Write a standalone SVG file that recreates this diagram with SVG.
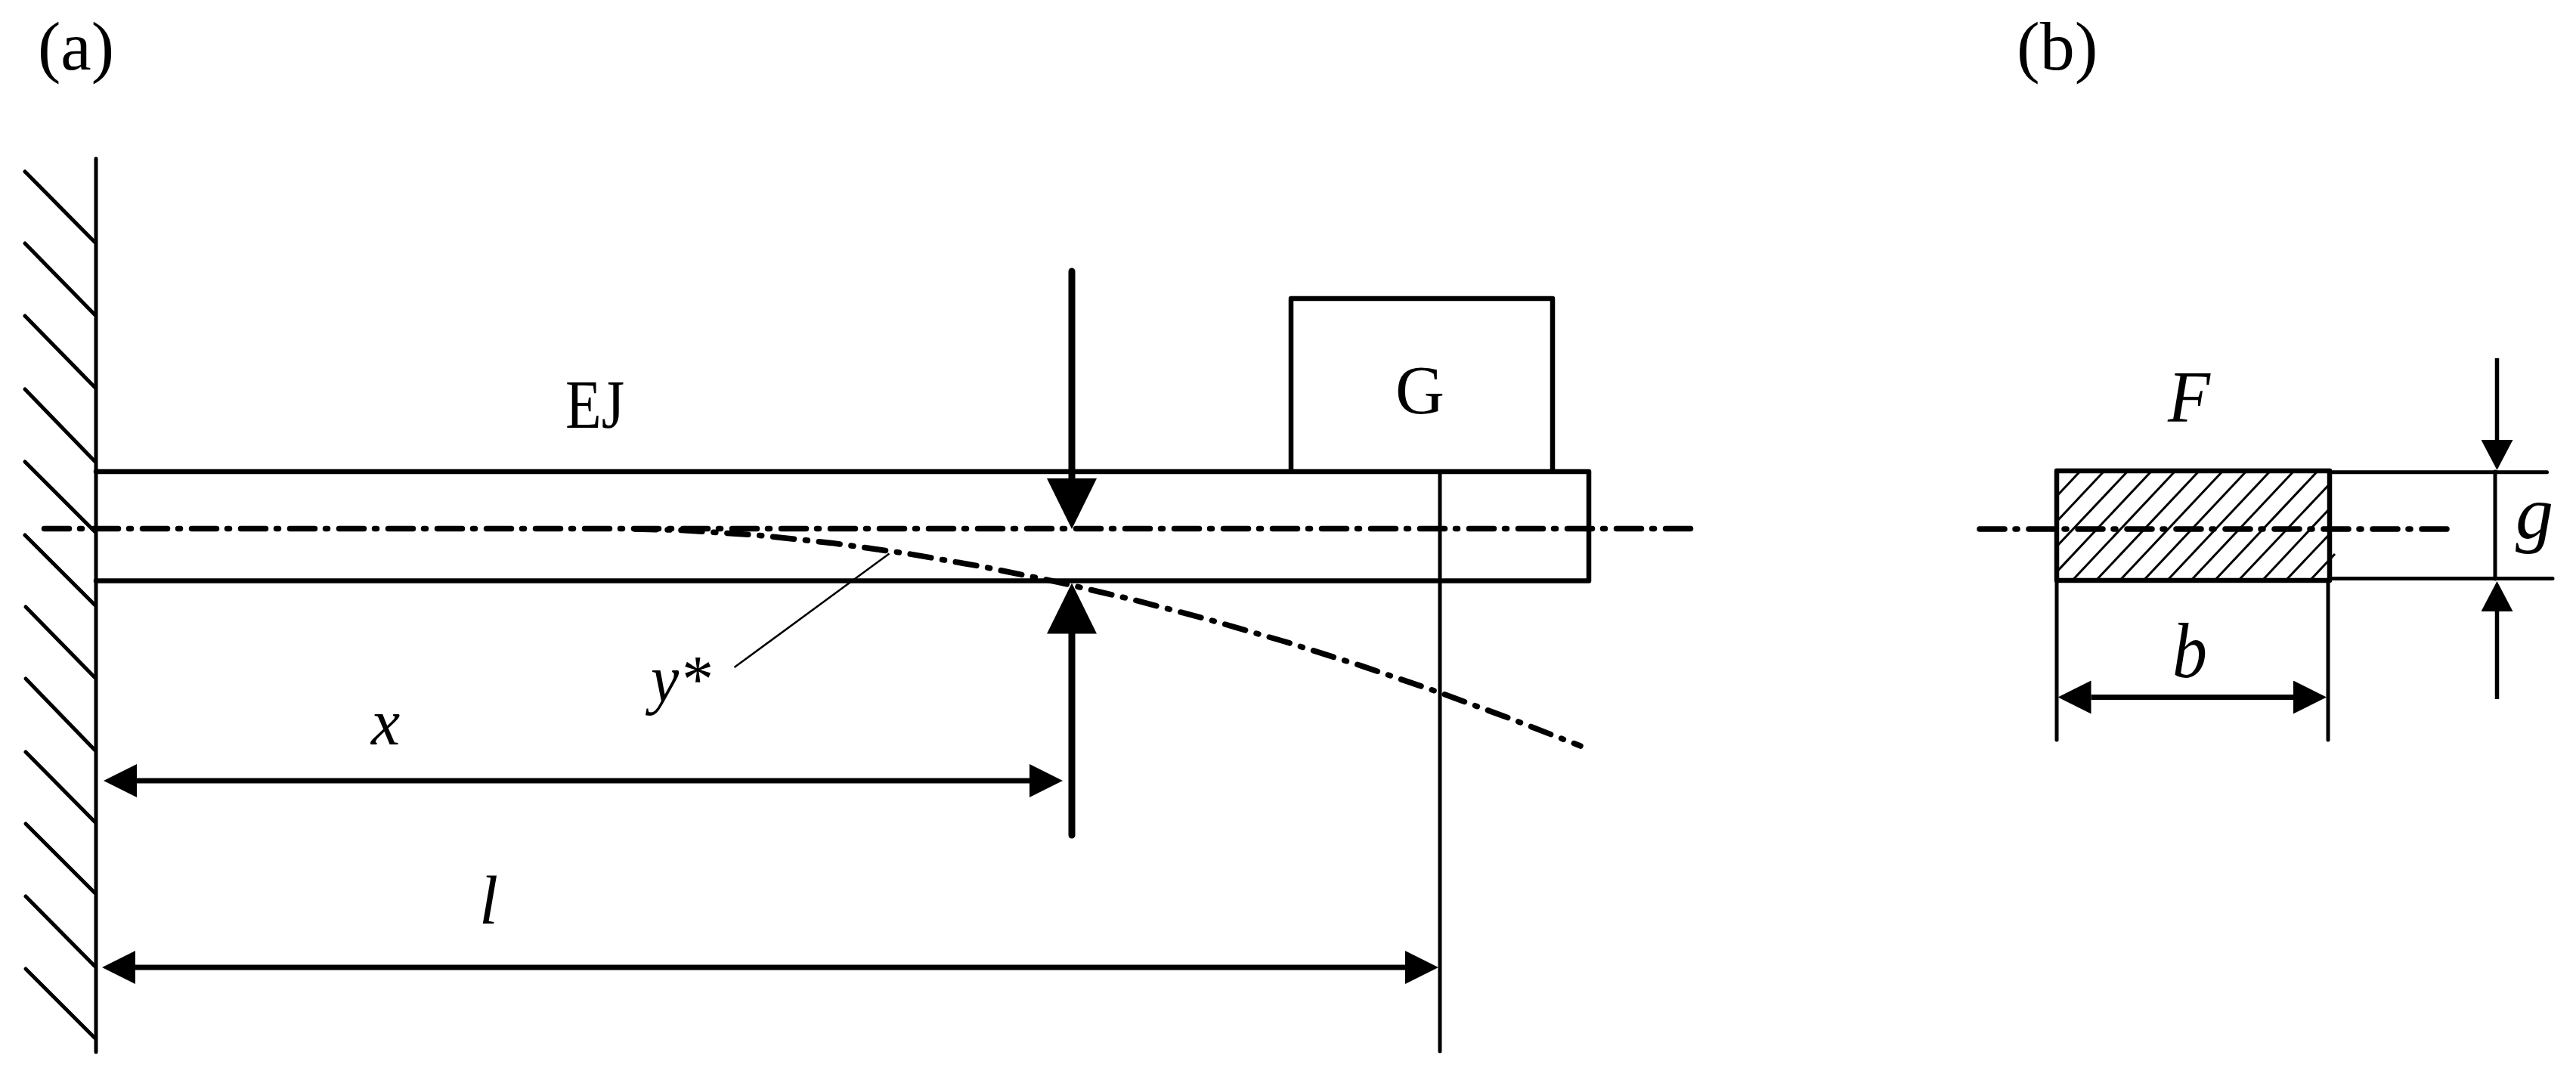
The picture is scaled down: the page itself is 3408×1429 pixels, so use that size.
<svg xmlns="http://www.w3.org/2000/svg" width="3408" height="1429" viewBox="0 0 3408 1429">
<style>
line,polyline,rect{fill:none;stroke:#000}
.wall{stroke-width:5;stroke-linecap:round}
.thick{stroke-width:6.5;stroke-linejoin:round;stroke-linecap:round}
.thin{stroke-width:5;stroke-linecap:round}
.hatch{stroke-width:3}
.leader{stroke-width:2.5}
.center{stroke-width:7.5;stroke-linecap:round;stroke-dasharray:33 14 3 15}
.curve{stroke-width:7.5;stroke-linecap:round;stroke-linejoin:round;stroke-dasharray:28 15 3 15}
.load{stroke-width:9;stroke-linecap:round}
.dim{stroke-width:7}
.head{stroke-width:5.5}
text{font-family:"Liberation Serif","Times New Roman",serif;fill:#000;font-size:90px}
.it{font-style:italic}
</style>
<defs>
<marker id="headL" markerUnits="userSpaceOnUse" viewBox="0 0 67 66" refX="0" refY="33" markerWidth="67" markerHeight="66" orient="auto"><path d="M0 0L67 33L0 66Z" fill="#000"/></marker>
<marker id="headM" markerUnits="userSpaceOnUse" viewBox="0 0 44 44" refX="0" refY="22" markerWidth="44" markerHeight="44" orient="auto-start-reverse"><path d="M0 0L44 22L0 44Z" fill="#000"/></marker>
<marker id="headS" markerUnits="userSpaceOnUse" viewBox="0 0 40 42" refX="0" refY="21" markerWidth="40" markerHeight="42" orient="auto"><path d="M0 0L40 21L0 42Z" fill="#000"/></marker>
</defs>
<rect style="stroke:none;fill:#fff" width="3408" height="1429"/>
<g id="label-a"><text x="50" y="92" style="font-size:91px">(a)</text></g>
<g id="label-b"><text x="2668" y="92" style="font-size:92px">(b)</text></g>
<g id="wall">
<line class="wall" x1="127" y1="210" x2="127" y2="1392"/>
<line class="wall" x1="33" y1="227" x2="125" y2="320"/>
<line class="wall" x1="33" y1="322" x2="125" y2="416"/>
<line class="wall" x1="33" y1="418" x2="125" y2="512"/>
<line class="wall" x1="33" y1="515" x2="125" y2="610"/>
<line class="wall" x1="33" y1="611" x2="125" y2="703"/>
<line class="wall" x1="33" y1="708" x2="125" y2="800"/>
<line class="wall" x1="34" y1="803" x2="125" y2="896"/>
<line class="wall" x1="34" y1="898" x2="125" y2="992"/>
<line class="wall" x1="34" y1="995" x2="125" y2="1087"/>
<line class="wall" x1="34" y1="1090" x2="125" y2="1181"/>
<line class="wall" x1="34" y1="1186" x2="125" y2="1278"/>
<line class="wall" x1="34" y1="1282" x2="125" y2="1373"/>
</g>
<g id="beam">
<polyline class="thick" points="127,624 2102,624 2102,768.5 127,768.5"/>
<text x="748" y="566" textLength="78" lengthAdjust="spacingAndGlyphs">EJ</text>
</g>
<g id="load-box">
<polyline class="thick" points="1708,623 1708,395 2054,395 2054,623"/>
<text x="1846" y="547">G</text>
</g>
<g id="centerlines">
<line class="center" x1="58.5" y1="699.5" x2="2242" y2="699.5"/>
<polyline class="curve" points="840,700 900,701.4 1000,707.9 1100,718.4 1200,732.4 1300,749.8 1400,770.3 1500,793.7 1600,820 1700,849 1800,880.6 1900,914.7 2000,951.5 2091,987"/>
</g>
<g id="section">
<g>
<line class="hatch" x1="2752.5" y1="623" x2="2721" y2="656.5"/>
<line class="hatch" x1="2784" y1="623" x2="2721" y2="690"/>
<line class="hatch" x1="2815.3" y1="623" x2="2721" y2="723"/>
<line class="hatch" x1="2846.7" y1="623" x2="2721" y2="756.6"/>
<line class="hatch" x1="2878" y1="623" x2="2741.6" y2="768"/>
<line class="hatch" x1="2909.5" y1="623" x2="2773" y2="768"/>
<line class="hatch" x1="2940.9" y1="623" x2="2804.5" y2="768"/>
<line class="hatch" x1="2972.3" y1="623" x2="2835.9" y2="768"/>
<line class="hatch" x1="3003.7" y1="623" x2="2867.3" y2="768"/>
<line class="hatch" x1="3035" y1="623" x2="2898.6" y2="768"/>
<line class="hatch" x1="3066.5" y1="623" x2="2930" y2="768"/>
<line class="hatch" x1="3082" y1="640.5" x2="2961.5" y2="768"/>
<line class="hatch" x1="3082" y1="673" x2="2993" y2="768"/>
<line class="hatch" x1="3082" y1="706.7" x2="3024" y2="768"/>
<line class="hatch" x1="3089" y1="733" x2="3056" y2="768"/>
</g>
<rect class="thick" x="2721" y="623" width="361" height="145"/>
<line class="center" x1="2619" y1="700" x2="3240" y2="700"/>
<text class="it" x="2868" y="558" style="font-size:98px" textLength="56" lengthAdjust="spacingAndGlyphs">F</text>
</g>
<g id="connectors">
<line class="load" x1="1418" y1="359" x2="1418" y2="633" marker-end="url(#headL)"/>
<line class="load" x1="1418" y1="1105" x2="1418" y2="838.5" marker-end="url(#headL)"/>
<line class="thin" x1="1905" y1="624" x2="1905" y2="1391"/>
<line class="leader" x1="1176.5" y1="732.5" x2="971.5" y2="883"/>
<line class="dim" x1="181" y1="1033" x2="1362" y2="1033" marker-start="url(#headM)" marker-end="url(#headM)"/>
<line class="dim" x1="179" y1="1280" x2="1859" y2="1280" marker-start="url(#headM)" marker-end="url(#headM)"/>
<line class="thin" x1="2721" y1="768" x2="2721" y2="979"/>
<line class="thin" x1="3080" y1="768" x2="3080" y2="979"/>
<line class="dim" x1="2766.5" y1="922.5" x2="3034" y2="922.5" marker-start="url(#headM)" marker-end="url(#headM)"/>
<line class="thin" x1="3084" y1="624.7" x2="3369.5" y2="624.7"/>
<line class="thin" x1="3084" y1="765.6" x2="3377" y2="765.6"/>
<line class="thin" x1="3301" y1="624" x2="3301" y2="766"/>
<line class="head" x1="3303.5" y1="474" x2="3303.5" y2="582" marker-end="url(#headS)"/>
<line class="head" x1="3303.5" y1="925" x2="3303.5" y2="809" marker-end="url(#headS)"/>
</g>
<g id="dimension-labels">
<text class="it" x="491" y="985" style="font-size:86px">x</text>
<text class="it" x="861" y="928" style="font-size:88px" textLength="79" lengthAdjust="spacingAndGlyphs">y*</text>
<text class="it" x="634" y="1222" style="font-size:90px">l</text>
<text class="it" x="2874" y="896" style="font-size:104px" textLength="46" lengthAdjust="spacingAndGlyphs">b</text>
<text class="it" x="3328" y="712" style="font-size:100px">g</text>
</g>
</svg>
